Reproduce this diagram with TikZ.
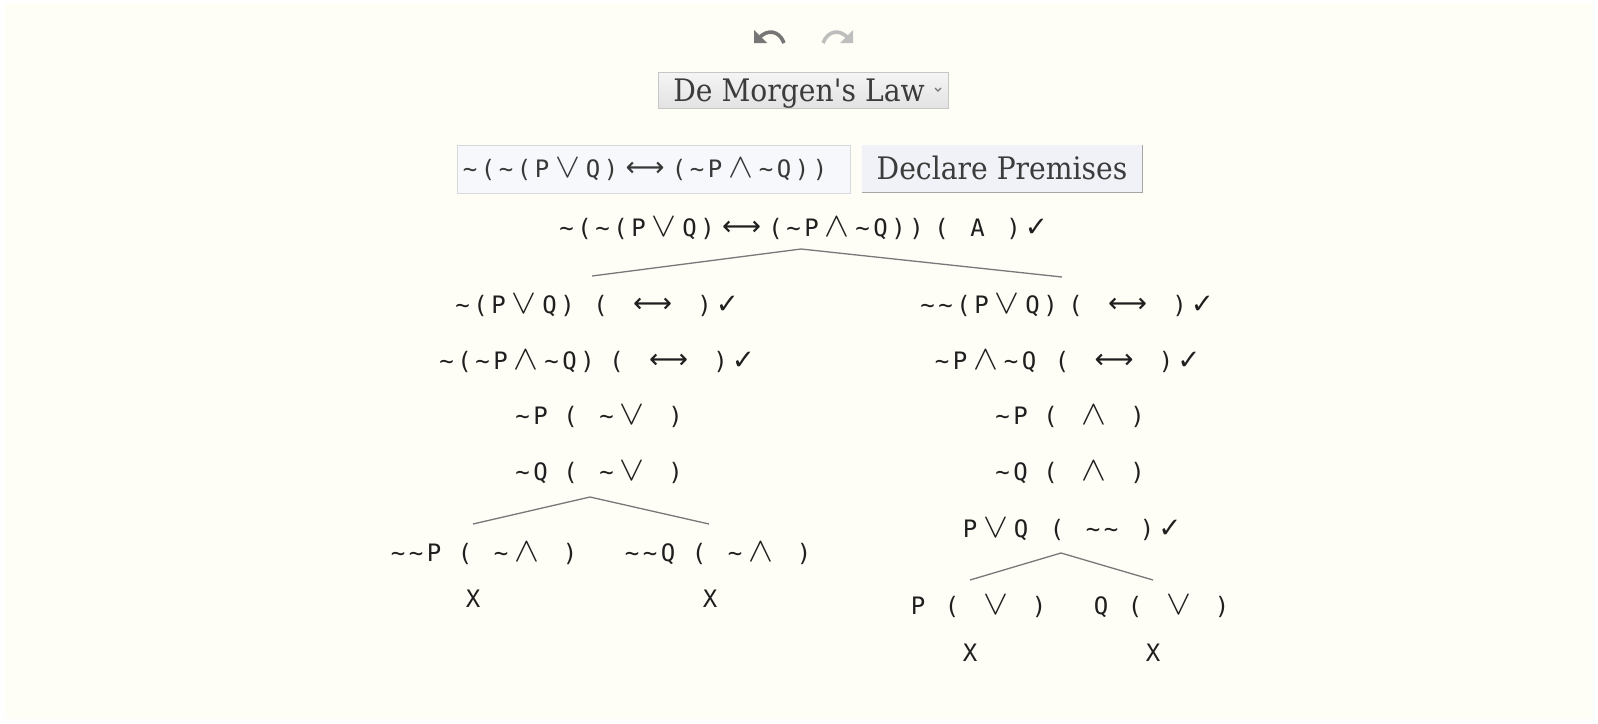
\documentclass[tikz,border=0pt]{standalone}
\usepackage{fontspec}
\usepackage{graphicx}
\newfontfamily\trmono{DejaVu Sans Mono}
\newfontfamily\trsym{DejaVu Sans}
\newfontfamily\uiserif[FakeStretch=0.91]{DejaVu Serif}
\definecolor{bgc}{RGB}{254,254,247}
\definecolor{undoc}{RGB}{118,118,118}
\definecolor{redoc}{RGB}{190,190,190}
\definecolor{uitext}{RGB}{60,60,60}
\definecolor{linec}{RGB}{120,120,120}
\definecolor{inboxfill}{RGB}{247,248,251}
\definecolor{inboxdraw}{RGB}{215,216,220}
\definecolor{btnfill}{RGB}{241,242,247}
\newlength\cw \setlength\cw{18pt}
\newcommand\cC[1]{\makebox[\cw][c]{#1}}
\newcommand\cT{\cC{\char"7E\relax}}
\newcommand\cB{\hspace*{\cw}}
\newcommand\cOr{\makebox[33pt][c]{\scalebox{1.5}[1.38]{$\vee$}}}
\newcommand\cAnd{\makebox[33pt][c]{\scalebox{1.5}[1.38]{$\wedge$}}}
\newcommand\cIff{\makebox[50pt][c]{\trsym\raisebox{1pt}{\resizebox{39pt}{!}{⟷}}}}
\newcommand\cChk{\makebox[28pt][c]{\trsym\scalebox{1.15}{✓}}}
\newcommand\cG[1]{\hspace*{#1pt}}
\tikzset{
  tr/.style={font={\trmono\fontsize{24pt}{28pt}\selectfont}, text=black!88, inner sep=0pt, anchor=base},
  br/.style={draw=linec, line width=1.3pt},
  ui/.style={font={\uiserif\fontsize{31pt}{36pt}\selectfont}, text=uitext, text height=22.6pt, text depth=0pt, inner sep=0pt},
}
\begin{document}
\begin{tikzpicture}[x=1pt,y=-1pt]
\useasboundingbox (0,0) rectangle (1598,723);
\fill[white] (0,0) rectangle (1598,723);
\fill[bgc] (5,3) rectangle (1593,719);
% undo / redo icons
\fill[undoc] (754,30) -- (754,43) -- (767,43) -- cycle;
\draw[undoc, line width=3.6pt] (759,38) .. controls (767,29) and (779,30) .. (784,43);
\fill[redoc] (853,30) -- (853,43) -- (840,43) -- cycle;
\draw[redoc, line width=3.6pt] (848,38) .. controls (840,29) and (828,30) .. (823,43);
% dropdown
\node[ui, draw=black!22, top color=black!4, bottom color=black!11, minimum width=290pt, minimum height=36pt] (dd) at (803,90) {De Morgen's Law\hspace*{8pt}};
\draw[black!55, line width=1.1pt] (935,88) -- (938,91) -- (941,88);
% input box
\node[tr, anchor=center, fill=inboxfill, draw=inboxdraw, line width=1pt, text=black!78, minimum height=48pt, text width=385pt, align=left, inner xsep=4pt, text height=17.5pt, text depth=0pt] (inp) at (653.5,169)
 {\cT\cC(\cT\cC(\cC P\cOr\cC Q\cC)\cIff\cC(\cT\cC P\cAnd\cT\cC Q\cC)\cC)};
% declare button
\node[ui, fill=btnfill, minimum width=280pt, minimum height=47pt] (decl) at (1002,168.5) {Declare Premises};
\draw[black!35, line width=1.2pt] (decl.north east) -- (decl.south east) -- (decl.south west);
% tree
\node[tr] (root) at (804,236) {\cT\cC(\cT\cC(\cC P\cOr\cC Q\cC)\cIff\cC(\cT\cC P\cAnd\cT\cC Q\cC)\cC)\cG{7}\cC(\cB\cC A\cB\cC)\cChk};
\node[tr] (l1) at (597.5,313.5) {\cT\cC(\cC P\cOr\cC Q\cC)\cG{15}\cC(\cB\cIff\cB\cC)\cChk};
\node[tr] (l2) at (597.5,369) {\cT\cC(\cT\cC P\cAnd\cT\cC Q\cC)\cG{11}\cC(\cB\cIff\cB\cC)\cChk};
\node[tr] (l3) at (599,424.5) {\cT\cC P\cG{12}\cC(\cB\cT\cOr\cB\cC)};
\node[tr] (l4) at (599,480) {\cT\cC Q\cG{12}\cC(\cB\cT\cOr\cB\cC)};
\node[tr] (ll) at (484,561) {\cT\cT\cC P\cG{13}\cC(\cB\cT\cAnd\cB\cC)};
\node[tr] (lr) at (718,561) {\cT\cT\cC Q\cG{13}\cC(\cB\cT\cAnd\cB\cC)};
\node[tr] (llx) at (473,607) {X};
\node[tr] (lrx) at (710,607) {X};
\node[tr] (r1) at (1067.5,313.5) {\cT\cT\cC(\cC P\cOr\cC Q\cC)\cG{7}\cC(\cB\cIff\cB\cC)\cChk};
\node[tr] (r2) at (1068,369) {\cT\cC P\cAnd\cT\cC Q\cG{15}\cC(\cB\cIff\cB\cC)\cChk};
\node[tr] (r3) at (1070,424.5) {\cT\cC P\cG{12}\cC(\cB\cAnd\cB\cC)};
\node[tr] (r4) at (1070,480) {\cT\cC Q\cG{12}\cC(\cB\cAnd\cB\cC)};
\node[tr] (r5) at (1072.5,537) {\cC P\cOr\cC Q\cG{18}\cC(\cB\cT\cT\cB\cC)\cChk};
\node[tr] (rl) at (978.5,614) {\cC P\cG{16}\cC(\cB\cOr\cB\cC)};
\node[tr] (rr) at (1161.5,614) {\cC Q\cG{16}\cC(\cB\cOr\cB\cC)};
\node[tr] (rlx) at (970,661) {X};
\node[tr] (rrx) at (1153,661) {X};
% branch lines
\coordinate (ra) at (801,249);
\coordinate (ra1) at (592,276);
\coordinate (ra2) at (1062,277);
\draw[br] (ra1) -- (ra) -- (ra2);
\coordinate (la) at (590,497);
\coordinate (la1) at (473,524);
\coordinate (la2) at (709,524);
\draw[br] (la1) -- (la) -- (la2);
\coordinate (rb) at (1061,553);
\coordinate (rb1) at (970,580);
\coordinate (rb2) at (1153,580);
\draw[br] (rb1) -- (rb) -- (rb2);
\end{tikzpicture}
\end{document}
